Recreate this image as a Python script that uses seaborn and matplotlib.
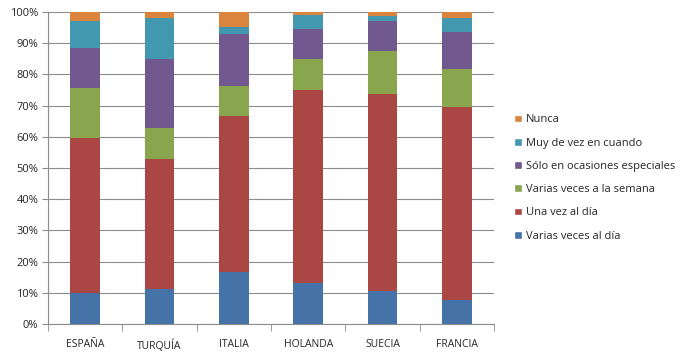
import numpy as np
import pandas as pd
import matplotlib
matplotlib.use("Agg")
import matplotlib.pyplot as plt
import seaborn as sns
from matplotlib.patches import Patch

countries = ["ESPAÑA", "TURQUÍA", "ITALIA", "HOLANDA", "SUECIA", "FRANCIA"]
series_names = ["Varias veces al día", "Una vez al día", "Varias veces a la semana",
                "Sólo en ocasiones especiales", "Muy de vez en cuando", "Nunca"]
varias_dia = [10.0, 11.3, 16.6, 13.1, 10.6, 7.7]
una_vez = [49.6, 41.5, 50.0, 61.9, 63.0, 61.8]
varias_semana = [16.2, 9.9, 9.6, 9.8, 13.8, 12.1]
ocasiones = [12.8, 22.1, 16.8, 9.6, 9.6, 11.9]
muy_vez = [8.5, 13.2, 2.3, 4.5, 1.7, 4.5]
nunca = [2.9, 2.0, 4.7, 1.1, 1.3, 2.0]
colors = ["#4572A7", "#AA4643", "#89A54E", "#71588F", "#4198AF", "#DB843D"]

sns.set_style("white")
plt.rcParams['font.family'] = ['Open Sans', 'DejaVu Sans']

series = [varias_dia, una_vez, varias_semana, ocasiones, muy_vez, nunca]
cum = np.cumsum(np.array(series), axis=0)
cum = cum / cum[-1] * 100.0

fig = plt.figure(figsize=(6.92, 3.58), dpi=100)
ax = fig.add_axes([48/692, 1 - 324/358, 446/692, 312/358])

for i in range(len(series) - 1, -1, -1):
    df = pd.DataFrame({"country": countries, "value": cum[i]})
    sns.barplot(data=df, x="country", y="value", color=colors[i], width=0.4,
                saturation=1, ax=ax, linewidth=0, zorder=3)

ax.set_ylim(0, 100)
ax.set_xlim(-0.5, len(countries) - 0.5)
ax.set_yticks(np.arange(0, 101, 10))
ax.set_yticklabels([f"{v}%" for v in range(0, 101, 10)], fontsize=8)
ax.yaxis.grid(True, color="#8c8c8c", linewidth=0.8, zorder=0)
ax.set_axisbelow(True)
ax.set_xlabel("")
ax.set_ylabel("")
ax.set_xticks(range(len(countries)))
ax.set_xticklabels(countries, fontsize=7.5)
ax.tick_params(axis="x", length=0, pad=11)
ax.tick_params(axis="y", length=4, color="#8c8c8c", direction="out", left=True, pad=3)
ax.set_xticks(np.arange(-0.5, len(countries)), minor=True)
ax.tick_params(axis="x", which="minor", length=5, color="#8c8c8c", direction="out", bottom=True)
for s in ["top", "right"]:
    ax.spines[s].set_visible(False)
for s in ["left", "bottom"]:
    ax.spines[s].set_color("#8c8c8c")
    ax.spines[s].set_linewidth(0.8)

handles = [Patch(facecolor=colors[i], label=series_names[i]) for i in range(len(series) - 1, -1, -1)]
fig.legend(handles=handles, loc="upper left", bbox_to_anchor=(510/692, 1 - 110/358),
           frameon=False, fontsize=8, handlelength=0.7, handleheight=0.7,
           handletextpad=0.3, labelspacing=1.1, borderaxespad=0)

fig.savefig("out.png", dpi=100)
